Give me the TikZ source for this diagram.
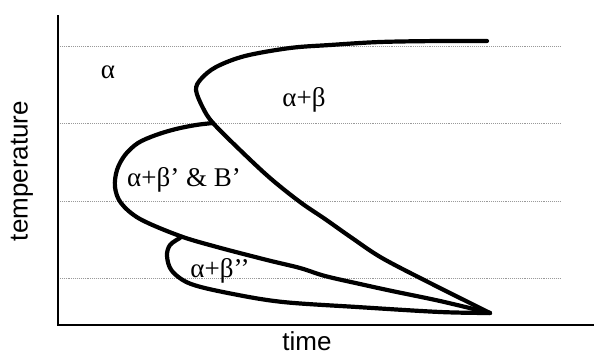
\documentclass[tikz,border=0pt]{standalone}
\usepackage{fontspec}
\setmainfont{Liberation Serif}
\newfontfamily\axisfont{Liberation Sans}
\begin{document}
\begin{tikzpicture}[x=1pt,y=-1pt,
  gridline/.style={gray!80,line width=0.9pt,densely dotted},
  axisline/.style={black,line width=2.6pt},
  boundary/.style={black,line width=4.2pt,line cap=round,line join=round},
  phase/.style={font=\fontsize{27}{30}\selectfont,inner sep=0pt},
  axislabel/.style={font=\axisfont\fontsize{26}{30}\selectfont,inner sep=0pt}]
\useasboundingbox (0,0) rectangle (594,356);
% grid
\foreach \yy/\nm in {46/ga,123/gb,201/gc,278/gd}{
  \coordinate (\nm l) at (58,\yy);
  \coordinate (\nm r) at (560,\yy);
  \draw[gridline] (\nm l) -- (\nm r);
}
% axes
\coordinate (top) at (58,15);
\coordinate (orig) at (58,325);
\coordinate (right) at (594,325);
\draw[axisline] (top) -- (orig) -- (right);
% curves
\draw[boundary] plot[smooth,tension=0.55] coordinates {(487,41) (440,41) (380,42) (330,45) (290,48) (245,56) (216,67) (201,79) (196,90) (203,108) (213,123) (240,150) (270,178) (300,202) (325,219) (352,238) (382,258) (430,283) (472,304) (490,313)};
\draw[boundary] plot[smooth,tension=0.55] coordinates {(213,123) (196,125) (176,129) (156,135) (138,143) (125,155) (117,170) (115,187) (121,203) (140,219) (180,236) (217,247) (267,260) (300,268) (325,276) (360,284) (392,291) (440,301) (490,313)};
\draw[boundary] plot[smooth,tension=0.55] coordinates {(180,238) (170,245) (167,256) (172,271) (191,284) (233,294) (283,302) (357,307) (440,312) (490,313)};
% labels
\node[phase] (a) at (108,72) {α};
\node[phase] (ab) at (304,100) {α+β};
\node[phase] (abp) at (184,180) {α+β’ \& B’};
\node[phase] (abpp) at (220,271) {α+β’’};
\node[axislabel,rotate=90] (temp) at (22,171) {temperature};
\node[axislabel] (time) at (307,341) {time};
\end{tikzpicture}
\end{document}
